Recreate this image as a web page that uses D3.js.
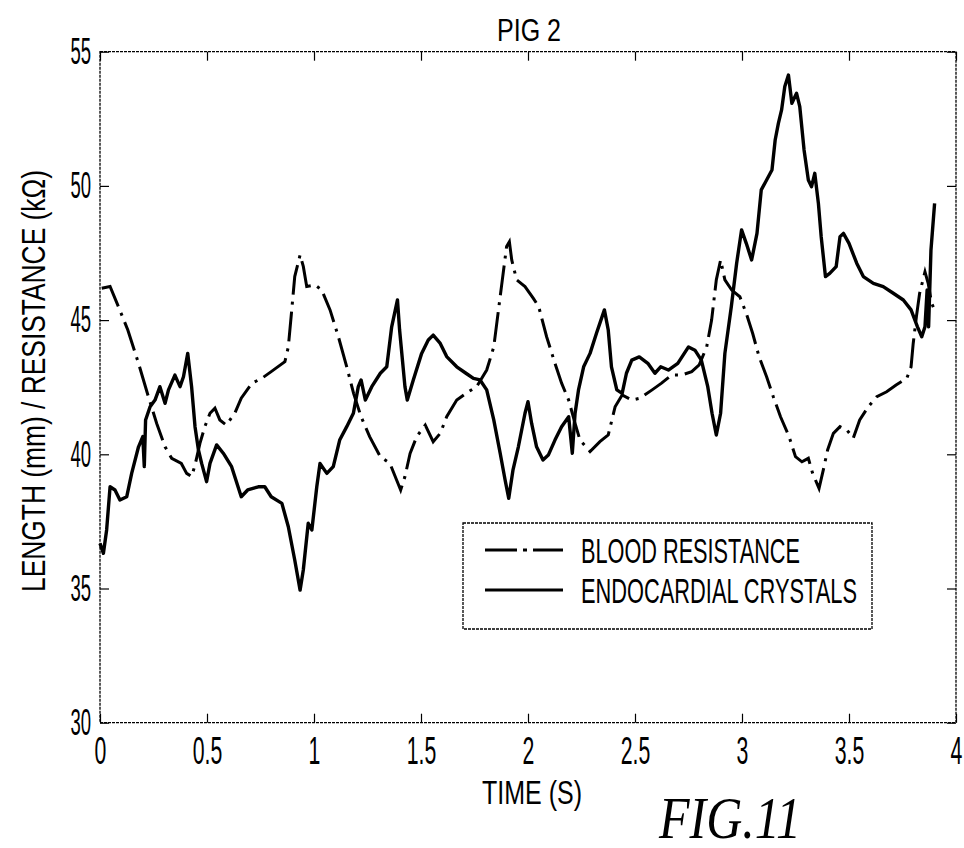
<!DOCTYPE html>
<html>
<head>
<meta charset="utf-8">
<script src="https://cdn.jsdelivr.net/npm/d3@7"></script>
<style>
  body { margin: 0; background: #fff; }
  svg text { fill: #000; }
</style>
</head>
<body>
<div id="chart"></div>
<script>
// blood resistance (dash-dot)
var resTime = [0.008, 0.047, 0.086, 0.13, 0.18, 0.226, 0.265, 0.304, 0.335, 0.38, 0.405, 0.428, 0.444, 0.467, 0.49, 0.514, 0.537, 0.56, 0.59, 0.63, 0.66, 0.71, 0.756, 0.80, 0.864, 0.88, 0.896, 0.91, 0.935, 0.95, 0.966, 1.005,
  1.036, 1.075, 1.114, 1.153, 1.185, 1.22, 1.26, 1.31, 1.355, 1.386, 1.405, 1.425, 1.449, 1.48, 1.52, 1.557, 1.59, 1.62, 1.667, 1.71, 1.76, 1.807, 1.84, 1.86, 1.88, 1.90, 1.913, 1.924, 1.947, 1.986,
  2.025, 2.05, 2.087, 2.126, 2.157, 2.19, 2.22, 2.243, 2.29, 2.336, 2.375, 2.407, 2.44, 2.485, 2.523, 2.58, 2.624, 2.67, 2.718, 2.765, 2.8, 2.835, 2.858, 2.88, 2.90, 2.92, 2.952, 2.99,
  3.02, 3.05, 3.08, 3.115, 3.146, 3.18, 3.22, 3.25, 3.28, 3.31, 3.33, 3.36, 3.38, 3.40, 3.427, 3.458, 3.49, 3.52, 3.55, 3.59, 3.63, 3.676, 3.72, 3.77, 3.79, 3.80, 3.815, 3.83, 3.855, 3.87, 3.886, 3.9];
var resValue = [46.19, 46.25, 45.5, 44.63, 43.39, 42.15, 41.15, 40.28, 39.85, 39.66, 39.29, 39.17, 39.6, 40.41, 41.03, 41.53, 41.72, 41.28, 41.09, 41.53, 42.09, 42.65, 42.83, 43.08, 43.45, 44.0, 45.38, 46.62, 47.43, 47.0, 46.25, 46.31,
  46.12, 45.38, 44.38, 43.26, 42.27, 41.4, 40.66, 39.91, 39.66, 39.04, 38.67, 39.17, 40.03, 40.66, 41.09, 40.47, 40.78, 41.4, 42.02, 42.27, 42.52, 43.14, 44.0, 45.25, 46.5, 47.74, 47.92, 47.24, 46.5, 46.25,
  45.81, 45.5, 44.38, 43.39, 42.65, 42.02, 41.15, 40.53, 40.1, 40.47, 40.72, 41.77, 42.21, 42.02, 42.09, 42.4, 42.65, 42.95, 42.95, 43.08, 43.33, 44.0, 45.0, 46.5, 47.24, 46.5, 46.12, 45.87,
  45.25, 44.5, 43.63, 42.89, 42.15, 41.4, 40.66, 39.91, 39.72, 39.85, 39.29, 38.73, 39.42, 40.16, 40.78, 41.03, 40.91, 40.6, 41.28, 41.77, 42.15, 42.33, 42.58, 42.83, 43.26, 44.13, 45.13, 46.0, 46.8, 46.37, 45.63, 45.38];

// endocardial crystals (solid)
var crysTime = [0, 0.016, 0.031, 0.047, 0.07, 0.093, 0.125, 0.148, 0.18, 0.20, 0.207, 0.213, 0.234, 0.257, 0.28, 0.304, 0.32, 0.35, 0.374, 0.39, 0.41, 0.428, 0.444, 0.46, 0.475, 0.498, 0.514, 0.545, 0.576, 0.615, 0.66, 0.69, 0.74, 0.77, 0.80, 0.85, 0.88, 0.91, 0.935, 0.95, 0.973, 0.99, 1.013,
  1.028, 1.06, 1.09, 1.12, 1.153, 1.184, 1.207, 1.22, 1.24, 1.27, 1.31, 1.34, 1.363, 1.39, 1.40, 1.425, 1.436, 1.464, 1.503, 1.534, 1.557, 1.59, 1.62, 1.667, 1.71, 1.745, 1.776, 1.807, 1.84, 1.87, 1.893, 1.91, 1.93, 1.955, 1.986, 2.0,
  2.017, 2.04, 2.07, 2.095, 2.126, 2.157, 2.19, 2.207, 2.22, 2.236, 2.26, 2.29, 2.32, 2.357, 2.375, 2.39, 2.415, 2.44, 2.46, 2.485, 2.52, 2.56, 2.593, 2.62, 2.656, 2.70, 2.75, 2.78, 2.81, 2.84, 2.86, 2.88, 2.90, 2.92, 2.95, 2.975, 2.998,
  3.02, 3.045, 3.07, 3.09, 3.115, 3.14, 3.155, 3.17, 3.185, 3.2, 3.217, 3.233, 3.255, 3.27, 3.29, 3.31, 3.325, 3.34, 3.357, 3.37, 3.39, 3.41, 3.44, 3.458, 3.474, 3.5, 3.536, 3.567, 3.614, 3.66, 3.707, 3.754, 3.79, 3.82, 3.84, 3.855, 3.865, 3.872, 3.883, 3.9];
var crysValue = [36.68, 36.31, 37.18, 38.79, 38.67, 38.3, 38.42, 39.29, 40.28, 40.66, 39.54, 41.28, 41.77, 42.02, 42.52, 41.9, 42.4, 42.95, 42.52, 42.89, 43.76, 42.52, 41.03, 40.16, 39.66, 38.98, 39.66, 40.35, 40.04, 39.54, 38.42, 38.67, 38.79, 38.79, 38.42, 38.17, 37.3, 36.06, 34.94, 35.69, 37.43, 37.18, 38.79,
  39.66, 39.29, 39.54, 40.53, 41.03, 41.53, 42.52, 42.77, 42.02, 42.52, 43.02, 43.26, 44.75, 45.75, 44.63, 42.52, 42.02, 42.77, 43.76, 44.26, 44.44, 44.13, 43.64, 43.26, 43.02, 42.83, 42.77, 42.4, 41.28, 40.04, 39.04, 38.36, 39.42, 40.28, 41.53, 41.96,
  41.15, 40.28, 39.79, 39.97, 40.53, 41.03, 41.4, 40.04, 41.53, 42.4, 43.26, 43.76, 44.51, 45.38, 44.63, 43.26, 42.4, 42.27, 43.02, 43.51, 43.63, 43.39, 43.02, 43.26, 43.14, 43.39, 44.0, 43.88, 43.51, 42.52, 41.53, 40.72, 41.53, 43.76, 45.5, 47.12, 48.36,
  47.86, 47.24, 48.23, 49.85, 50.22, 50.59, 51.71, 52.33, 52.83, 53.7, 54.13, 53.08, 53.45, 52.95, 51.34, 50.22, 49.97, 50.47, 49.35, 48.11, 46.62, 46.74, 46.99, 48.11, 48.23, 47.86, 47.12, 46.62, 46.37, 46.25, 46.0, 45.75, 45.38, 44.75, 44.38, 44.75, 46.12, 44.75, 47.61, 49.35];

var xTicks = [0, 0.5, 1, 1.5, 2, 2.5, 3, 3.5, 4];
var yTicks = [30, 35, 40, 45, 50, 55];
var seriesNames = ["BLOOD RESISTANCE", "ENDOCARDIAL CRYSTALS"];

var W = 964, H = 848;
var margin = {top: 51.7, right: 8, bottom: 125.3, left: 100};
var width = W - margin.left - margin.right,
  height = H - margin.top - margin.bottom;
var sans = "'Liberation Sans', Arial, sans-serif";

// squeeze text horizontally, the original uses a very narrow plotter font
function squeeze(sel, k) {
  sel.each(function () {
    var w = this.getComputedTextLength();
    d3.select(this).attr("textLength", w * k).attr("lengthAdjust", "spacingAndGlyphs");
  });
}

var svg = d3.select("#chart")
  .append("svg")
  .attr("width", W)
  .attr("height", H);

var g = svg.append("g")
  .attr("transform", "translate(" + margin.left + "," + margin.top + ")");

var x = d3.scaleLinear().domain([0, 4]).range([0, width]);
var y = d3.scaleLinear().domain([30, 55]).range([height, 0]);

// frame
g.append("rect")
  .attr("width", width)
  .attr("height", height)
  .attr("fill", "none")
  .attr("stroke", "#000")
  .attr("stroke-width", 1.3)
  .attr("stroke-dasharray", "3,1");

var xAxis = g.append("g")
  .attr("transform", "translate(0," + height + ")")
  .call(d3.axisBottom(x).tickValues(xTicks).tickSize(-9).tickPadding(14).tickFormat(d3.format("")));
var yAxis = g.append("g")
  .call(d3.axisLeft(y).tickValues(yTicks).tickSize(-9).tickPadding(9).tickFormat(d3.format("")));
g.append("g")
  .call(d3.axisTop(x).tickValues(xTicks).tickSize(-9).tickFormat(""));
g.append("g")
  .attr("transform", "translate(" + width + ",0)")
  .call(d3.axisRight(y).tickValues(yTicks).tickSize(-9).tickFormat(""));

g.selectAll(".domain").remove();
g.selectAll(".tick line").attr("stroke", "#000").attr("stroke-width", 1.2);

xAxis.selectAll("text")
  .style("font-family", sans)
  .style("font-size", "38px");
yAxis.selectAll("text")
  .style("font-family", sans)
  .style("font-size", "37px");
squeeze(xAxis.selectAll("text"), 0.56);
squeeze(yAxis.selectAll("text"), 0.5);

var line = d3.line()
  .x(function (d) { return x(d[0]); })
  .y(function (d) { return y(d[1]); });

var resData = resTime.map(function (t, i) { return [t, resValue[i]]; });
var crysData = crysTime.map(function (t, i) { return [t, crysValue[i]]; });

g.append("path")
  .datum(resData)
  .attr("fill", "none")
  .attr("stroke", "#000")
  .attr("stroke-width", 3)
  .attr("stroke-dasharray", "30,7,3,7")
  .attr("d", line);

g.append("path")
  .datum(crysData)
  .attr("fill", "none")
  .attr("stroke", "#000")
  .attr("stroke-width", 3.4)
  .attr("stroke-linejoin", "round")
  .attr("d", line);

// legend
var legend = svg.append("g").attr("transform", "translate(463,523)");
legend.append("rect")
  .attr("width", 409)
  .attr("height", 106)
  .attr("fill", "#fff")
  .attr("stroke", "#000")
  .attr("stroke-width", 1.3)
  .attr("stroke-dasharray", "3,1");

var rows = legend.selectAll(".row")
  .data(seriesNames)
  .enter().append("g")
  .attr("class", "row")
  .attr("transform", function (d, i) { return "translate(0," + (27 + i * 40) + ")"; });

rows.append("line")
  .attr("x1", 22)
  .attr("x2", 100)
  .attr("stroke", "#000")
  .attr("stroke-width", 3)
  .attr("stroke-dasharray", function (d, i) { return i ? null : "32,6,4,6"; });

rows.append("text")
  .attr("x", 118)
  .attr("y", 13)
  .style("font-family", sans)
  .style("font-size", "35px")
  .attr("textLength", function (d, i) { return i ? 276 : 219; })
  .attr("lengthAdjust", "spacingAndGlyphs")
  .text(function (d) { return d; });

// titles
svg.append("text")
  .attr("x", 529)
  .attr("y", 41)
  .attr("text-anchor", "middle")
  .style("font-family", sans)
  .style("font-size", "31px")
  .attr("textLength", 64)
  .attr("lengthAdjust", "spacingAndGlyphs")
  .text("PIG 2");

svg.append("text")
  .attr("x", 532)
  .attr("y", 804)
  .attr("text-anchor", "middle")
  .style("font-family", sans)
  .style("font-size", "34px")
  .attr("textLength", 100)
  .attr("lengthAdjust", "spacingAndGlyphs")
  .text("TIME (S)");

svg.append("text")
  .attr("transform", "translate(45,381) rotate(-90)")
  .attr("text-anchor", "middle")
  .style("font-family", sans)
  .style("font-size", "34px")
  .attr("textLength", 422)
  .attr("lengthAdjust", "spacingAndGlyphs")
  .text("LENGTH (mm) / RESISTANCE (k\u03A9)");

svg.append("text")
  .attr("x", 730)
  .attr("y", 838)
  .attr("text-anchor", "middle")
  .style("font-family", "'Liberation Serif', 'DejaVu Serif', serif")
  .style("font-style", "italic")
  .style("font-size", "60px")
  .attr("textLength", 142)
  .attr("lengthAdjust", "spacingAndGlyphs")
  .text("FIG.11");
</script>
</body>
</html>
